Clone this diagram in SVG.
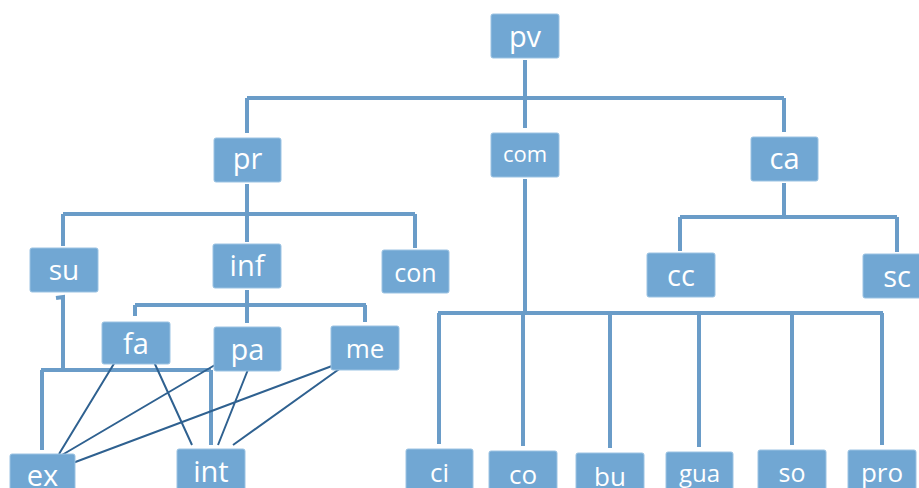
<svg xmlns="http://www.w3.org/2000/svg" width="919" height="488" viewBox="0 0 919 488">
<style>
.box{fill:#71a7d3;stroke:#9cc3e3;stroke-width:1}
.t{fill:#ffffff;font-family:"Open Sans","Liberation Sans",sans-serif;text-anchor:middle}
.c{fill:none;stroke:#6a9cc8;stroke-width:4}
.d{fill:none;stroke:#2f6190;stroke-width:2}
</style>
<rect width="919" height="488" fill="#ffffff"/>
<g id="connectors">
<path class="c" d="M525 60V98M247 98H784M247 98V133M525 98V128M784 98V132"/>
<path class="c" d="M247 184V214M63 214H415M63 214V246M247 214V242M415 214V248"/>
<path class="c" d="M784 183V217M680 217H897M680 217V251M897 217V252"/>
<path class="c" d="M525 179V313M438 313H883M439 313V444M523 313V446M610 313V448M699 313V447M792 313V445M882 313V445"/>
<path class="c" d="M247 290V323M135 305H366M135 305V316M365 305V322"/>
<path class="c" d="M56 298L63 297V370M41 370H211M42 370V450M211 370V445"/>
<path class="d" d="M115 362L59 454M154 362L192 445M220 362L62 455M251 362L218 445M340 363L70 464M349 362L233 445"/>
</g>
<g id="pv"><rect class="box" x="491" y="14" width="68" height="44" rx="2"/><text class="t" x="525" y="47" font-size="29">pv</text></g>
<g id="pr"><rect class="box" x="214" y="138" width="67" height="44" rx="2"/><text class="t" x="247.5" y="169" font-size="29">pr</text></g>
<g id="com"><rect class="box" x="491" y="133" width="68" height="44" rx="2"/><text class="t" x="525" y="162" font-size="22">com</text></g>
<g id="ca"><rect class="box" x="751" y="137" width="67" height="44" rx="2"/><text class="t" x="784.5" y="169" font-size="29">ca</text></g>
<g id="su"><rect class="box" x="30" y="248" width="68" height="44" rx="2"/><text class="t" x="64" y="280" font-size="28">su</text></g>
<g id="inf"><rect class="box" x="213" y="244" width="68" height="44" rx="2"/><text class="t" x="247" y="276" font-size="29">inf</text></g>
<g id="con"><rect class="box" x="382" y="250" width="67" height="43" rx="2"/><text class="t" x="415.5" y="282" font-size="25">con</text></g>
<g id="cc"><rect class="box" x="647" y="253" width="68" height="44" rx="2"/><text class="t" x="681" y="286" font-size="29">cc</text></g>
<g id="sc"><rect class="box" x="863" y="254" width="68" height="44" rx="2"/><text class="t" x="897" y="287" font-size="29">sc</text></g>
<g id="fa"><rect class="box" x="102" y="322" width="68" height="42" rx="2"/><text class="t" x="136" y="354" font-size="29">fa</text></g>
<g id="pa"><rect class="box" x="214" y="327" width="67" height="44" rx="2"/><text class="t" x="247.5" y="360" font-size="29">pa</text></g>
<g id="me"><rect class="box" x="331" y="326" width="68" height="44" rx="2"/><text class="t" x="365" y="358" font-size="26">me</text></g>
<g id="ex"><rect class="box" x="10" y="454" width="65" height="44" rx="2"/><text class="t" x="42.5" y="486" font-size="29">ex</text></g>
<g id="int"><rect class="box" x="177" y="449" width="68" height="44" rx="2"/><text class="t" x="211" y="482" font-size="29">int</text></g>
<g id="ci"><rect class="box" x="406" y="449" width="67" height="44" rx="2"/><text class="t" x="439.5" y="482" font-size="26">ci</text></g>
<g id="co"><rect class="box" x="489" y="451" width="68" height="44" rx="2"/><text class="t" x="523" y="484" font-size="26">co</text></g>
<g id="bu"><rect class="box" x="576" y="453" width="68" height="44" rx="2"/><text class="t" x="610" y="486" font-size="26">bu</text></g>
<g id="gua"><rect class="box" x="666" y="452" width="67" height="44" rx="2"/><text class="t" x="699.5" y="482" font-size="24">gua</text></g>
<g id="so"><rect class="box" x="758" y="450" width="68" height="44" rx="2"/><text class="t" x="792" y="482" font-size="25">so</text></g>
<g id="pro"><rect class="box" x="848" y="450" width="68" height="44" rx="2"/><text class="t" x="882" y="482" font-size="26">pro</text></g>
</svg>
